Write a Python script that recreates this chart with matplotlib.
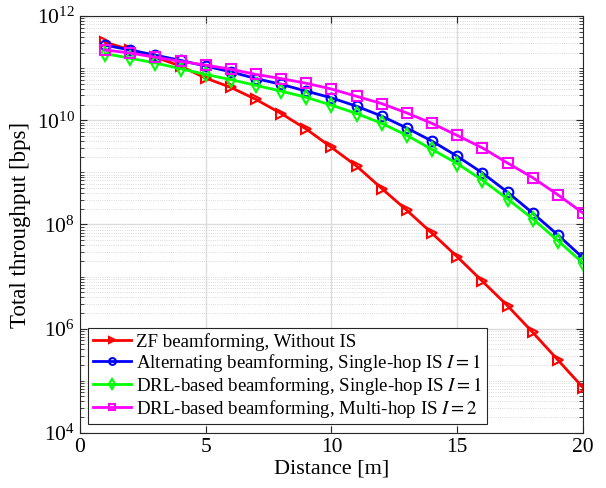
import numpy as np
import matplotlib
matplotlib.use("Agg")
import matplotlib.pyplot as plt
from matplotlib.ticker import LogLocator, NullFormatter

plt.rcParams['font.family'] = ['Liberation Serif', 'DejaVu Serif']
plt.rcParams['mathtext.fontset'] = 'stix'

distance = np.arange(1, 21)
log_zf = [11.50, 11.35, 11.21, 11.04, 10.81, 10.63, 10.40, 10.13, 9.83, 9.48,
          9.12, 8.69, 8.27, 7.83, 7.38, 6.91, 6.44, 5.93, 5.40, 4.87]
log_alt = [11.44, 11.35, 11.25, 11.15, 11.04, 10.93, 10.80, 10.69, 10.56, 10.43,
           10.27, 10.08, 9.85, 9.60, 9.31, 8.99, 8.62, 8.22, 7.80, 7.36]
log_drl1 = [11.28, 11.19, 11.10, 10.99, 10.88, 10.78, 10.67, 10.56, 10.44, 10.29,
            10.13, 9.94, 9.71, 9.44, 9.17, 8.85, 8.49, 8.11, 7.69, 7.26]
log_drl2 = [11.35, 11.29, 11.21, 11.13, 11.06, 10.98, 10.88, 10.80, 10.71, 10.60,
            10.46, 10.32, 10.14, 9.94, 9.71, 9.47, 9.18, 8.90, 8.57, 8.22]

labels = ["ZF beamforming, Without IS",
          r"Alternating beamforming, Single-hop IS $I=1$",
          r"DRL-based beamforming, Single-hop IS $I=1$",
          r"DRL-based beamforming, Multi-hop IS $I=2$"]
colors = ["#ff0000", "#0000ff", "#00ff00", "#ff00ff"]
markers = [">", "o", "d", "s"]
series = [log_zf, log_alt, log_drl1, log_drl2]

fig = plt.figure(figsize=(6.06, 4.88), dpi=100)
ax = fig.add_axes([0.132, 0.113, 0.830, 0.854])

for vals, c, m, lab in zip(series, colors, markers, labels):
    ax.semilogy(distance, 10 ** np.array(vals), color=c, marker=m, lw=2,
                markersize=7, markerfacecolor='none', markeredgewidth=1.5,
                label=lab)

ax.set_xlim(0, 20)
ax.set_ylim(1e4, 1e12)
ax.set_xticks([0, 5, 10, 15, 20])
ax.set_yticks([1e4, 1e6, 1e8, 1e10, 1e12])
ax.yaxis.set_minor_locator(LogLocator(base=10, subs=np.arange(1, 10), numticks=100))
ax.yaxis.set_minor_formatter(NullFormatter())
ax.tick_params(which='both', direction='in', top=True, right=True, colors='#262626',
               labelcolor='black')
ax.tick_params(which='major', labelsize=15.5, length=5)
ax.tick_params(which='minor', length=3)
ax.grid(True, which='major', color='#dcdcdc', lw=1.0)
ax.grid(True, which='minor', axis='y', color='#cfcfcf', lw=0.6, ls=':')
ax.set_axisbelow(True)
for s in ax.spines.values():
    s.set_color('#262626')

ax.set_xlabel("Distance [m]", fontsize=16, labelpad=2)
ax.set_ylabel("Total throughput [bps]", fontsize=16.5, labelpad=4)

leg = ax.legend(loc='lower left', fontsize=13.6, markerscale=0.7, handlelength=2.0,
                borderpad=0.25, labelspacing=0.05, handletextpad=0.25,
                fancybox=False, edgecolor='#262626', framealpha=1,
                borderaxespad=0.45)
leg.get_frame().set_linewidth(0.8)

fig.savefig("out.png", dpi=100)
